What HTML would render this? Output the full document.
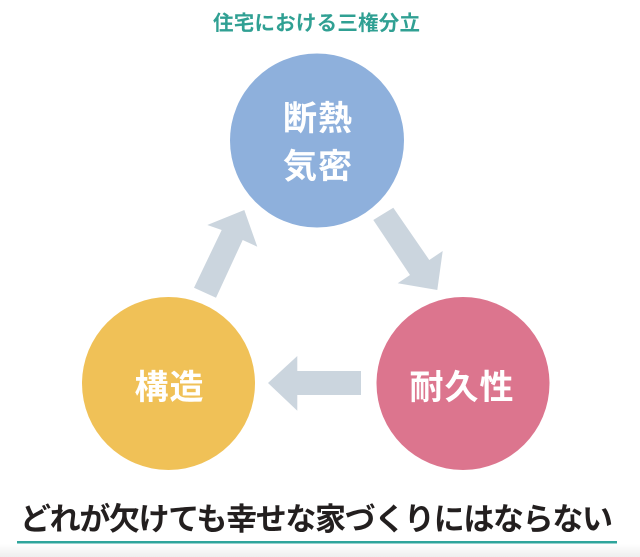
<!DOCTYPE html>
<html>
<head>
<meta charset="utf-8">
<style>
  html,body{margin:0;padding:0;background:#fff;}
  svg{display:block;}
  text{font-family:"Liberation Sans","Noto Sans CJK JP",sans-serif;font-weight:bold;}
</style>
</head>
<body>
<svg width="640" height="557" viewBox="0 0 640 557" xmlns="http://www.w3.org/2000/svg">
  <defs>
    <linearGradient id="bg" x1="0" y1="0" x2="0" y2="1">
      <stop offset="0" stop-color="#ffffff"/>
      <stop offset="1" stop-color="#eeeeee"/>
    </linearGradient>
  </defs>
  <rect x="0" y="0" width="640" height="557" fill="#ffffff"/>
  <rect x="0" y="544" width="640" height="13" fill="url(#bg)"/>

  <!-- title -->
  <text x="213" y="30" font-size="20.5" fill="#30a093" textLength="207" lengthAdjust="spacing">住宅における三権分立</text>

  <!-- circles -->
  <circle cx="317" cy="140.5" r="87" fill="#8eb0dc"/>
  <circle cx="168.5" cy="383.5" r="86.5" fill="#f0c157"/>
  <circle cx="463" cy="383.5" r="86.5" fill="#dc758e"/>

  <!-- arrows -->
  <polygon points="194,287.7 221.7,230 207.3,225 244.3,210 257.3,246.7 242.7,240 216,297.7" fill="#cbd5de"/>
  <polygon points="373.3,220 393.3,207.7 429.3,260 442.7,251 437.3,290 397.7,283.3 410,275" fill="#cbd5de"/>
  <polygon points="361,371 297.3,371 297.3,356 268,383 297.3,410.7 297.3,395 361,395" fill="#cbd5de"/>

  <!-- circle labels -->
  <text x="318" y="130" font-size="34" fill="#ffffff" text-anchor="middle" letter-spacing="1">断熱</text>
  <text x="318" y="178" font-size="34" fill="#ffffff" text-anchor="middle" letter-spacing="1">気密</text>
  <text x="169.5" y="399" font-size="34" fill="#ffffff" text-anchor="middle" letter-spacing="1">構造</text>
  <text x="462" y="399" font-size="34" fill="#ffffff" text-anchor="middle" letter-spacing="1">耐久性</text>

  <!-- bottom message -->
  <text x="20" y="530" font-size="31" fill="#231f1f" textLength="593" lengthAdjust="spacing">どれが欠けても幸せな家づくりにはならない</text>
  <rect x="17" y="541" width="600" height="2.5" fill="#2fa59c"/>
</svg>
</body>
</html>
